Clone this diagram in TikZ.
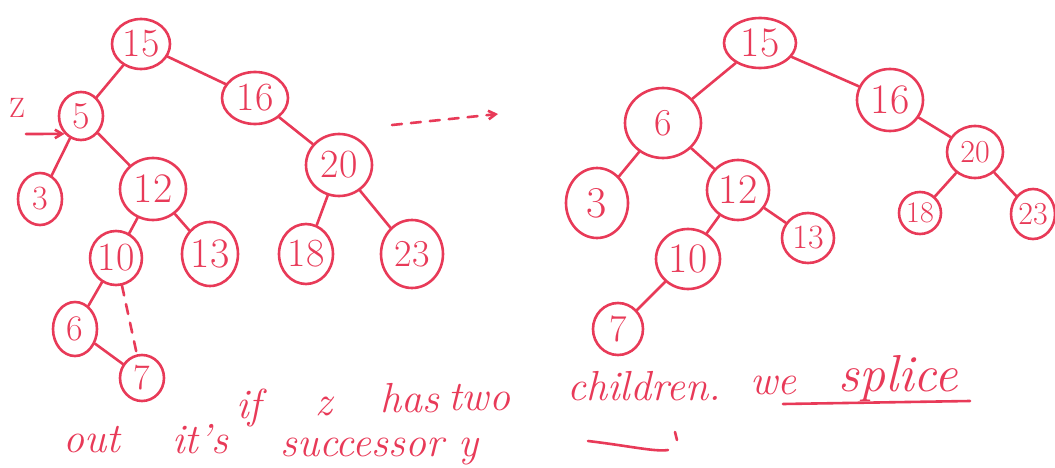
\documentclass[tikz,border=0pt]{standalone}
\usepackage{tikz}
\usetikzlibrary{arrows.meta,shapes.geometric}
\definecolor{ink}{RGB}{232,58,88}

\begin{document}
\begin{tikzpicture}[
  x=1pt, y=-1pt,
  nd/.style  ={draw=ink,ellipse,line width=2.6pt,inner sep=0pt,text=ink},
  edge/.style={draw=ink,line width=2.6pt,line cap=round},
  dsh/.style ={edge,dash pattern=on 10pt off 9pt},
  arr/.style ={edge,-{Straight Barb[length=2.5mm,width=3mm]}},
  txt/.style ={text=ink,inner sep=0pt,anchor=base west,
               font=\fontsize{42}{44}\selectfont\itshape},
]
\useasboundingbox (0,0) rectangle (1055,468);

% ----------------------------------------------------------- tree before
\foreach \n/\x/\y/\w/\h/\f in {15/141/44/58/50/40, 5/81/116/44/48/38,
    16/255/98/66/52/40, 3/40/199/44/52/34, 12/153/189/66/62/42,
    20/339/165/66/62/40, 10/116/258/44/54/40, 13/210/254/56/64/42,
    18/306/254/54/60/40, 23/412/254/62/68/38, 6/75/329/44/54/36,
    7/142/378/44/46/36}
  \node[nd,minimum width=\w,minimum height=\h,font=\fontsize{\f}{\f}\selectfont]
    (l\n) at (\x,\y) {\n};
\foreach \a/\b in {15/5, 15/16, 5/3, 5/12, 16/20, 12/10, 12/13, 20/18,
    20/23, 10/6, 6/7}
  \draw[edge] (l\a) -- (l\b);
\draw[dsh] (l10) -- (l7);

% z points at the node to delete
\node[txt,font=\fontsize{28}{30}\selectfont] (zl) at (9,118) {Z};
\coordinate (za) at (26,134);
\draw[arr] (za) -- (l5.south west);

% ----------------------------------------------------------- leads to
\coordinate (da) at (392,125);
\coordinate (db) at (498,114);
\draw[dsh,-{Straight Barb[length=2.5mm,width=3mm]}] (da) -- (db);

% ----------------------------------------------------------- tree after
\foreach \n/\x/\y/\w/\h/\f in {15/760/43/72/50/42, 6/663/123/76/70/38,
    16/890/100/66/62/42, 3/597/203/62/70/44, 12/738/190/62/60/42,
    13/808/238/52/50/34, 10/688/259/64/60/42, 7/618/329/50/52/38,
    20/975/152/56/52/32, 18/920/213/42/42/30, 23/1033/214/44/50/32}
  \node[nd,minimum width=\w,minimum height=\h,font=\fontsize{\f}{\f}\selectfont]
    (r\n) at (\x,\y) {\n};
\foreach \a/\b in {15/6, 15/16, 6/3, 6/12, 16/20, 12/10, 12/13, 20/18,
    20/23, 10/7}
  \draw[edge] (r\a) -- (r\b);

% ----------------------------------------------------------- the note
\node[txt] (wif) at (236,418) {if};
\foreach \k/\w/\x/\y in {1/z/315/415, 2/has/380/412, 3/two/448/410,
    4/children./567/400, 5/we/750/394}
  \node[txt] (a\k) at (\x,\y) {\w};
\node[txt,font=\fontsize{52}{54}\selectfont\itshape] (a6) at (838,391) {splice};
\draw[edge] (783,404) -- (970,401);
\node[txt] (b1) at (63,452) {out};
\node[txt] (b2) at (172,453) {it's};
\node[txt] (b3) at (280,456) {successor y};
\draw[edge] (588,441) .. controls (630,446) and (655,452) .. (668,450);
\draw[edge] (675,432) -- (677,440);

\end{tikzpicture}
\end{document}
